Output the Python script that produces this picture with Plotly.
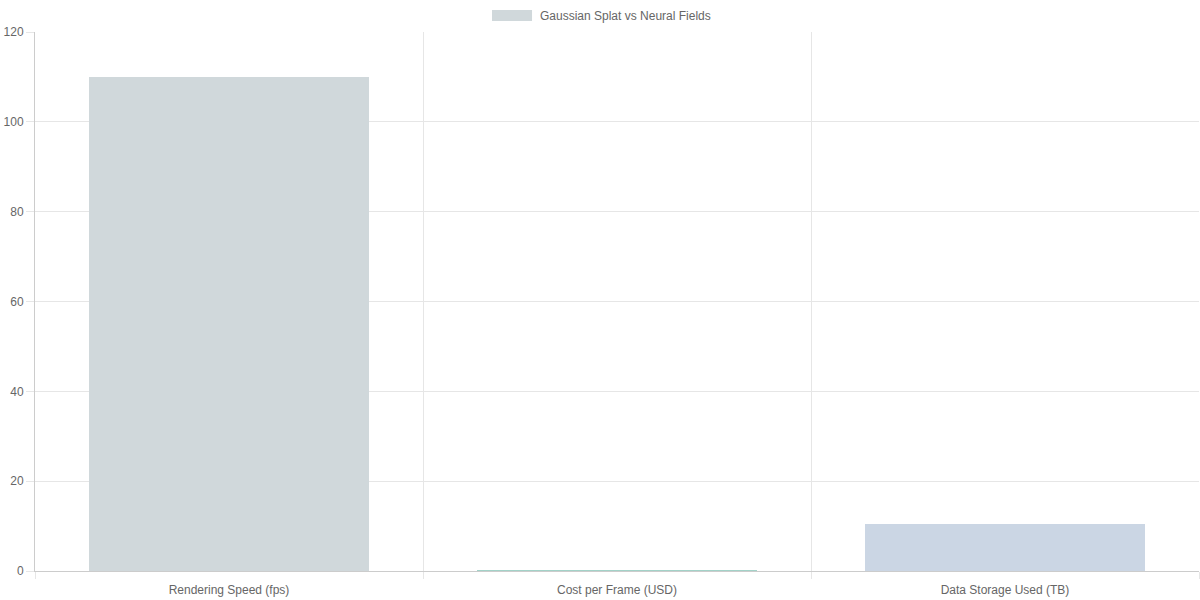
import plotly.graph_objects as go

# data
categories = ["Rendering Speed (fps)", "Cost per Frame (USD)", "Data Storage Used (TB)"]
values = [110, 0.05, 10.5]
bar_colors = ["#d0d8db", "#a3d2c8", "#cbd6e4"]
series_name = "Gaussian Splat vs Neural Fields"

pos = list(range(len(categories)))
boundaries = [p - 0.5 for p in pos] + [pos[-1] + 0.5]

grid = "#e6e6e6"
axis_line = "#cccccc"
font_col = "#666666"

fig = go.Figure()

fig.add_trace(go.Bar(
    x=pos, y=values,
    marker=dict(color=bar_colors, line=dict(width=0)),
    width=0.72,
    name=series_name,
    showlegend=False,
))

# invisible trace just to activate the overlaying axis for category gridlines
fig.add_trace(go.Scatter(x=[boundaries[0], boundaries[-1]], y=[0, 0], xaxis="x2",
                         mode="lines", line=dict(width=0), hoverinfo="skip", showlegend=False))

fig.update_layout(
    width=1200, height=600,
    paper_bgcolor="white", plot_bgcolor="white",
    margin=dict(l=35, r=1, t=32, b=29, autoexpand=False),
    font=dict(family="Liberation Sans, Arial, sans-serif", size=12, color=font_col),
    xaxis=dict(
        range=[boundaries[0], boundaries[-1]],
        tickvals=pos, ticktext=categories,
        showgrid=False, ticks="", zeroline=False,
        showline=True, linecolor=axis_line, linewidth=1,
        ticklabelstandoff=8,
    ),
    xaxis2=dict(
        overlaying="x", side="bottom",
        range=[boundaries[0], boundaries[-1]],
        tickvals=boundaries, showticklabels=False,
        showgrid=True, gridcolor=grid, gridwidth=1,
        ticks="outside", ticklen=7, tickcolor=grid,
        zeroline=False, showline=False,
    ),
    yaxis=dict(
        range=[0, 120], dtick=20,
        showgrid=True, gridcolor=grid, gridwidth=1,
        ticks="outside", ticklen=8, tickcolor=grid,
        zeroline=False, showline=True, linecolor=axis_line, linewidth=1,
    ),
    bargap=0,
    showlegend=False,
)

# legend swatch + label drawn at top center like the original
fig.add_shape(type="rect", xref="paper", yref="paper",
              x0=0.3926, x1=0.427, y0=1.0204, y1=1.0408,
              fillcolor=bar_colors[0], line=dict(width=0))
fig.add_annotation(text=series_name, xref="paper", yref="paper",
                   x=0.4321, y=1.0297, xanchor="left", yanchor="middle",
                   showarrow=False, font=dict(size=12, color=font_col))

# drop the default body margin so the figure sits at the page corner
fig.write_html("out.html", config={"displayModeBar": False},
               post_script="document.body.style.margin='0';")
